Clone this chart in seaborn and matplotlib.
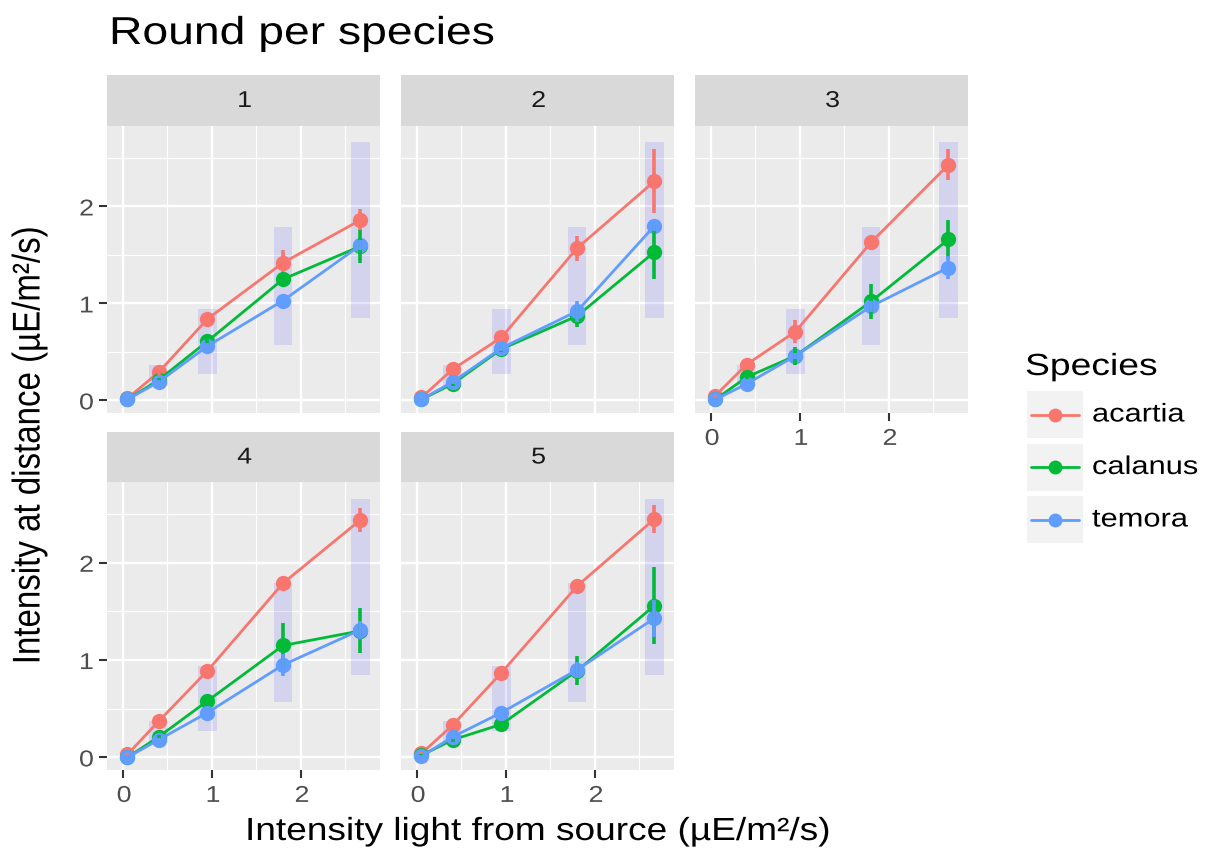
import numpy as np
import pandas as pd
import matplotlib
matplotlib.use("Agg")
import matplotlib.pyplot as plt
from matplotlib.patches import Rectangle
from matplotlib.lines import Line2D
from matplotlib.transforms import Affine2D
from matplotlib import patheffects
import seaborn as sns

# ---- data -------------------------------------------------------------
ROUNDS = ["1", "2", "3", "4", "5"]
SPECIES = ["acartia", "calanus", "temora"]
LIGHT = [0.05, 0.40, 0.95, 1.80, 2.67]          # intensity at source

# mean intensity at distance, one row per round
ACARTIA_MEAN = [[0.02, 0.29, 0.84, 1.42, 1.86],
                [0.03, 0.32, 0.65, 1.57, 2.26],
                [0.05, 0.37, 0.71, 1.63, 2.43],
                [0.03, 0.37, 0.89, 1.79, 2.44],
                [0.04, 0.33, 0.87, 1.76, 2.45]]
CALANUS_MEAN = [[0.01, 0.21, 0.61, 1.25, 1.59],
                [0.01, 0.17, 0.53, 0.87, 1.53],
                [0.01, 0.24, 0.46, 1.02, 1.66],
                [0.00, 0.21, 0.58, 1.15, 1.30],
                [0.02, 0.18, 0.34, 0.89, 1.56]]
TEMORA_MEAN = [[0.01, 0.19, 0.56, 1.03, 1.60],
               [0.01, 0.19, 0.54, 0.92, 1.80],
               [0.01, 0.17, 0.46, 0.97, 1.37],
               [0.00, 0.18, 0.46, 0.95, 1.31],
               [0.01, 0.21, 0.46, 0.90, 1.43]]

# standard deviations
ACARTIA_SD = [[0.01, 0.03, 0.04, 0.13, 0.11],
              [0.01, 0.03, 0.04, 0.13, 0.33],
              [0.01, 0.03, 0.12, 0.04, 0.16],
              [0.01, 0.02, 0.03, 0.03, 0.12],
              [0.01, 0.02, 0.03, 0.03, 0.14]]
CALANUS_SD = [[0.01, 0.02, 0.04, 0.07, 0.17],
              [0.01, 0.02, 0.03, 0.11, 0.28],
              [0.01, 0.02, 0.09, 0.18, 0.20],
              [0.01, 0.02, 0.05, 0.23, 0.23],
              [0.01, 0.02, 0.03, 0.15, 0.40]]
TEMORA_SD = [[0.01, 0.02, 0.03, 0.04, 0.05],
             [0.01, 0.02, 0.03, 0.11, 0.05],
             [0.01, 0.02, 0.03, 0.06, 0.12],
             [0.01, 0.02, 0.03, 0.11, 0.09],
             [0.01, 0.02, 0.03, 0.08, 0.19]]

# reference ranges shown as shaded bands
BAND_X = [0.40, 0.95, 1.80, 2.67]
BAND_LOW = [0.15, 0.27, 0.57, 0.85]
BAND_HIGH = [0.37, 0.94, 1.79, 2.66]

PALETTE = {"acartia": "#F8766D", "calanus": "#00BA38", "temora": "#619CFF"}

means = {"acartia": ACARTIA_MEAN, "calanus": CALANUS_MEAN, "temora": TEMORA_MEAN}
sds = {"acartia": ACARTIA_SD, "calanus": CALANUS_SD, "temora": TEMORA_SD}
rows = []
for r_i, rnd in enumerate(ROUNDS):
    for sp in SPECIES:
        for k, xv in enumerate(LIGHT):
            rows.append({"round": rnd, "species": sp, "light": xv,
                         "intensity": means[sp][r_i][k], "sd": sds[sp][r_i][k]})
df = pd.DataFrame(rows)


# ---- text widening effect (glyphs drawn a little wider than the font) ---
class Widen(patheffects.AbstractPathEffect):
    def __init__(self, sx=1.0, sy=1.0):
        super().__init__()
        self.sx, self.sy = sx, sy

    def draw_path(self, renderer, gc, tpath, affine, rgbFace=None):
        m = affine.get_matrix() @ Affine2D().scale(self.sx, self.sy).get_matrix()
        renderer.draw_path(gc, tpath, Affine2D(m), rgbFace)


# ---- style ------------------------------------------------------------
sns.set_theme(style="white")
plt.rcParams["font.family"] = ["Liberation Sans", "DejaVu Sans"]

W, H = 1212, 854
fig = plt.figure(figsize=(W / 100, H / 100), dpi=100)


def fig_box(x0, y0, x1, y1):
    return [x0 / W, 1 - y1 / H, (x1 - x0) / W, (y1 - y0) / H]


COLS = [(107, 380), (401, 674), (695, 968)]
ROWS = [(127, 414), (483, 771)]
STRIPS = [(76, 127), (433, 483)]
layout = {"1": (0, 0), "2": (0, 1), "3": (0, 2), "4": (1, 0), "5": (1, 1)}
WIDE = [Widen(1.17)]

for rnd in ROUNDS:
    r, c = layout[rnd]
    x0, x1 = COLS[c]
    y0, y1 = ROWS[r]
    ax = fig.add_axes(fig_box(x0, y0, x1, y1))
    ax.set_facecolor("#EBEBEB")
    for s in ax.spines.values():
        s.set_visible(False)
    ax.set_xlim(-0.18, 2.89)
    ax.set_ylim(-0.13, 2.83)
    ax.set_xticks([0, 1, 2])
    ax.set_yticks([0, 1, 2])
    ax.set_xticks([0.5, 1.5, 2.5], minor=True)
    ax.set_yticks([0.5, 1.5, 2.5], minor=True)
    ax.grid(True, which="major", color="white", lw=1.7)
    ax.grid(True, which="minor", color="white", lw=0.85)
    ax.set_axisbelow(True)

    # shaded reference bands
    ax.bar(BAND_X, np.array(BAND_HIGH) - np.array(BAND_LOW), bottom=BAND_LOW,
           width=0.21, color="blue", alpha=0.1, linewidth=0, zorder=1)

    sub = df[df["round"] == rnd]
    sns.lineplot(data=sub, x="light", y="intensity", hue="species",
                 hue_order=SPECIES, palette=PALETTE, marker="o", markersize=11,
                 markeredgewidth=0, linewidth=2, errorbar=None, sort=False,
                 legend=False, ax=ax, zorder=3)
    for sp in SPECIES:
        s2 = sub[sub["species"] == sp]
        ax.vlines(s2["light"], s2["intensity"] - s2["sd"], s2["intensity"] + s2["sd"],
                  colors=PALETTE[sp], lw=2.6, zorder=4)

    ax.set_xlabel("")
    ax.set_ylabel("")
    show_x = rnd in ("3", "4", "5")
    show_y = c == 0
    ax.tick_params(axis="both", which="minor", length=0)
    ax.tick_params(axis="x", which="major", length=6 if show_x else 0, width=1.5,
                   color="#333333", labelsize=16.5, labelcolor="#4D4D4D", pad=4,
                   labelbottom=show_x, bottom=show_x)
    ax.tick_params(axis="y", which="major", length=6 if show_y else 0, width=1.5,
                   color="#333333", labelsize=16.5, labelcolor="#4D4D4D", pad=5,
                   labelleft=show_y, left=show_y)
    for lbl in ax.get_xticklabels() + ax.get_yticklabels():
        lbl.set_path_effects(WIDE)

    # facet strip
    sy0, sy1 = STRIPS[r]
    sax = fig.add_axes(fig_box(x0, sy0, x1, sy1))
    sax.set_facecolor("#D9D9D9")
    sax.set_xticks([])
    sax.set_yticks([])
    for s in sax.spines.values():
        s.set_visible(False)
    sax.text(0.5, 0.5, rnd, ha="center", va="center", fontsize=16.5,
             color="#1A1A1A", transform=sax.transAxes, path_effects=WIDE)

# titles
fig.text(109 / W, 1 - 45 / H, "Round per species", fontsize=28, ha="left",
         va="baseline", color="black", path_effects=[Widen(1.19)])
fig.text(245 / W, 1 - 833 / H, "Intensity light from source (µE/m²/s)",
         fontsize=23, ha="left", va="center", color="black",
         path_effects=[Widen(1.16)])
fig.text(31 / W, 1 - 447 / H, "Intensity at distance (µE/m²/s)",
         fontsize=23.8, ha="center", va="center", rotation=90, color="black",
         path_effects=[Widen(1.0, 1.17)])

# legend drawn in pixel coordinates
lax = fig.add_axes([0, 0, 1, 1], facecolor="none")
lax.set_xlim(0, W)
lax.set_ylim(H, 0)
lax.axis("off")
lax.text(1025, 376, "Species", fontsize=22, ha="left", va="baseline", color="black",
         path_effects=[Widen(1.22)])
key_tops = [392, 444.5, 497]
for sp, kt in zip(SPECIES, key_tops):
    lax.add_patch(Rectangle((1027, kt), 56, 47, facecolor="#F2F2F2", edgecolor="none"))
    cy = kt + 23.5
    lax.add_line(Line2D([1031, 1079], [cy, cy], color=PALETTE[sp], lw=2))
    lax.plot([1055], [cy], "o", color=PALETTE[sp], markersize=10, markeredgewidth=0)
    lax.text(1092, cy, sp, fontsize=18.5, ha="left", va="center", color="black",
             path_effects=[Widen(1.2)])

fig.savefig("out.png", dpi=100, facecolor="white")
